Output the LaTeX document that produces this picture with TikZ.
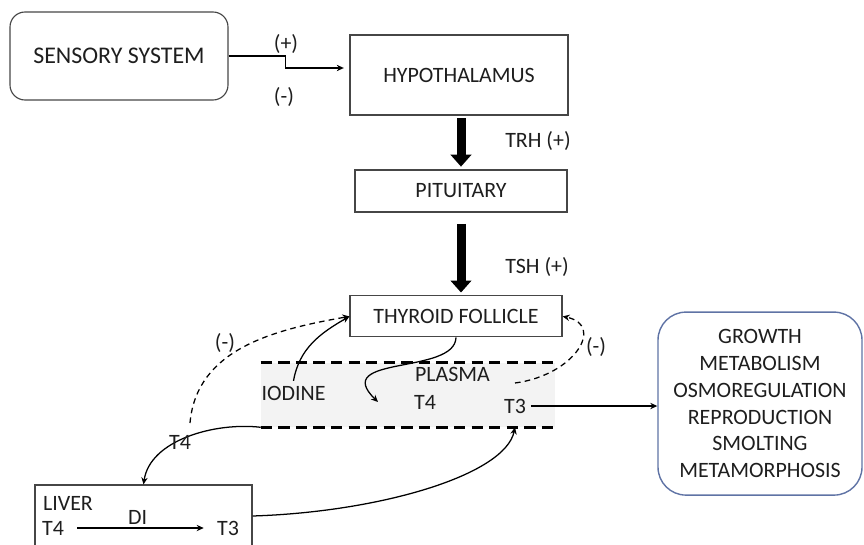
\documentclass[tikz,border=0pt]{standalone}
\usepackage{fontspec}
\setmainfont{Carlito}
\usepackage{tikz}
\usetikzlibrary{arrows.meta, positioning, calc}
\definecolor{framegray}{RGB}{70,70,70}
\definecolor{effectblue}{RGB}{95,115,165}
\definecolor{plasmagray}{RGB}{243,243,243}
\definecolor{inkgray}{RGB}{30,30,30}

\tikzset{
    organ/.style={draw=framegray, line width=0.8pt, inner sep=2pt},
    link/.style={line width=0.9pt, -{Stealth[length=5pt,width=4.5pt]}},
    feedback/.style={link, dash pattern=on 4pt off 3pt},
    hormone/.style={line width=6.4pt, -{Triangle[length=8.5pt,width=14.5pt]}},
    bandline/.style={line width=2pt, dash pattern=on 8pt off 4.5pt},
}

\begin{document}
\begin{tikzpicture}[font=\fontsize{15.6}{19}\selectfont, text=inkgray]
    \useasboundingbox (0,0) rectangle (21.6,-13.6);
    \clip (0,0) rectangle (21.6,-13.6);

    % Boxes of the axis
    \node[organ, rounded corners=0.375cm, minimum width=5.45cm, minimum height=2.2cm, font=\fontsize{17}{20}\selectfont] (sens) at (2.975,-1.4) {SENSORY SYSTEM};
    \node[organ, minimum width=5.45cm, minimum height=2cm] (hypo) at (11.475,-1.875) {HYPOTHALAMUS};
    \node[organ, minimum width=5.3cm, minimum height=1.05cm] (pit) at (11.525,-4.775) {PITUITARY};
    \node[organ, minimum width=5.3cm, minimum height=1.025cm] (thy) at (11.4,-7.91) {THYROID FOLLICLE};

    % Sensory input
    \draw[link, shorten >=4pt] (sens.east) -- ++(1.425,0) |- ([yshift=0.175cm]hypo.west);
    \node (plus) at (7.15,-1.1) {(+)};
    \node (minus) at (7.1,-2.425) {(-)};

    % Releasing hormones
    \draw[hormone, shorten <=2pt, shorten >=2pt] (hypo.south -| pit) -- (pit.north);
    \node (trh) at (13.45,-3.525) {TRH (+)};
    \draw[hormone, shorten <=8pt, shorten >=2pt] (pit.south) -- (pit.south |- thy.north);
    \node (tsh) at (13.425,-6.675) {TSH (+)};

    % Plasma compartment
    \node[fill=plasmagray, minimum width=7.35cm, minimum height=1.6cm, inner sep=0pt] (band) at (10.2,-9.875) {};
    \draw[bandline] (band.north west) -- (band.north east);
    \draw[bandline] (band.south west) -- (band.south east);
    \node (plasma) at (11.3125,-9.35) {PLASMA};
    \node (iod) at (7.3375,-9.825) {IODINE};
    \node (t4p) at (10.625,-10.05) {T4};
    \node (t3p) at (12.875,-10.15) {T3};
    \coordinate (t4in) at (9.45,-10.05);
    \coordinate (fbr) at (12.875,-9.575);
    \coordinate (fbl) at (4.75,-10.575);

    % Target effects
    \node[draw=effectblue, line width=1pt, rounded corners=0.7cm, minimum width=5.1cm, minimum height=4.575cm, align=center] (fx) at (19.0,-10.09)
        {GROWTH\\METABOLISM\\OSMOREGULATION\\REPRODUCTION\\SMOLTING\\METAMORPHOSIS};

    % Liver
    \node[organ, minimum width=5.425cm, minimum height=1.55cm] (liver) at (3.5875,-12.9) {};
    \node (livlab) at (1.7,-12.575) {LIVER};
    \node (lt4) at (1.325,-13.2) {T4};
    \node (lt3) at (5.7,-13.2) {T3};
    \draw[link, shorten <=6pt, shorten >=6pt] (lt4) -- (lt3);
    \node (di) at (3.44,-12.925) {DI};

    % Hormone flow
    \draw[link] (iod.north) to[out=80, in=210] (thy.west);
    \draw[link] (thy.south) .. controls (11.375,-9.375) and (8.25,-8.875) .. (t4in);
    \draw[link] (t3p.east) -- (t3p.east -| fx.west);
    \draw[link] (band.south west) .. controls (5.375,-10.55) and (3.75,-11.0) .. (liver.north);
    \node (t4l) at (4.5,-11.05) {T4};
    \draw[link] (liver.east) .. controls (9.5,-12.8) and (12.625,-11.875) .. (t3p |- band.south);

    % Negative feedback
    \draw[feedback] (fbl) to[out=85, in=190] (thy.west);
    \node (negl) at (5.625,-8.575) {(-)};
    \draw[feedback] (fbr) .. controls (14.375,-9.375) and (15.125,-8.125) .. (thy.east);
    \node (negr) at (14.9,-8.675) {(-)};
\end{tikzpicture}
\end{document}
